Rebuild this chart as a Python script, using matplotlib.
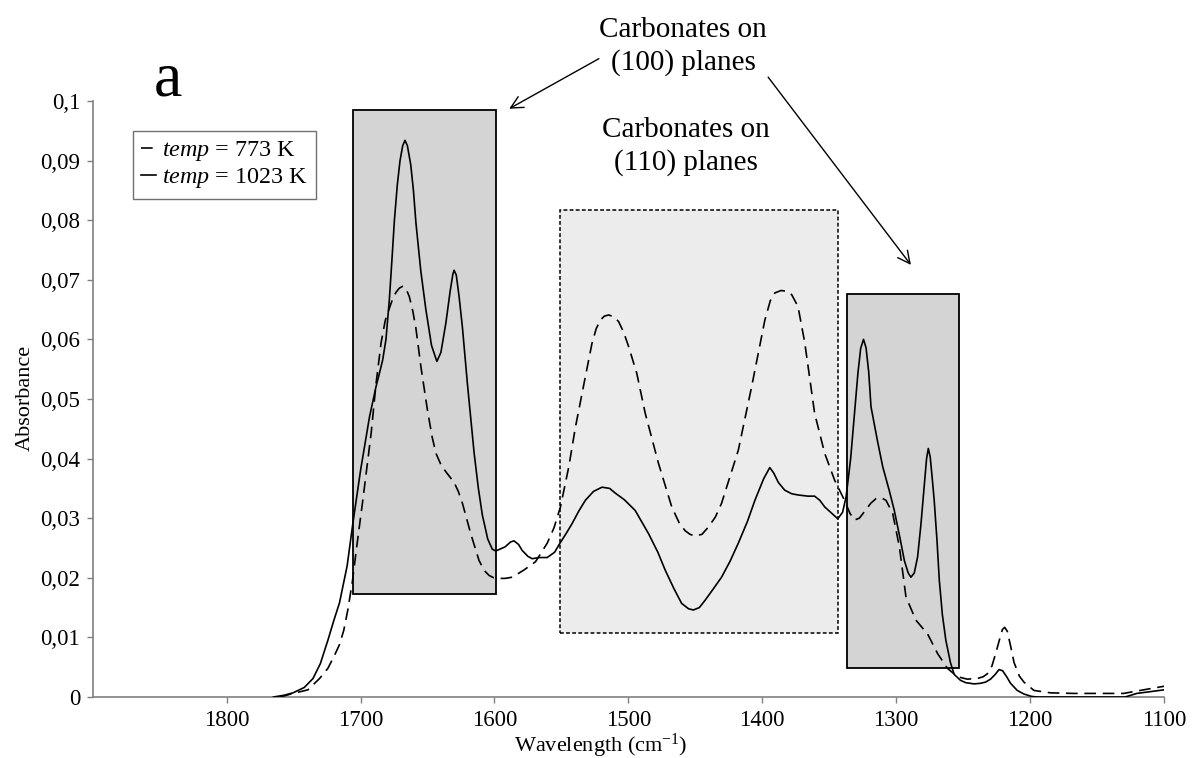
import matplotlib
matplotlib.use("Agg")
import matplotlib.pyplot as plt
from matplotlib.patches import Rectangle
from matplotlib.lines import Line2D

plt.rcParams["font.family"] = "Liberation Serif"
plt.rcParams["mathtext.fontset"] = "custom"
plt.rcParams["mathtext.rm"] = "Liberation Serif"
plt.rcParams["mathtext.it"] = "Liberation Serif:italic"

# spectrum at 1023 K (solid)
wn_1023 = [1765, 1757, 1750.4, 1742, 1735.5, 1730, 1724.4, 1720, 1715.7, 1710,
           1705.8, 1700, 1693.3, 1688.5, 1685.9, 1683.5, 1681, 1678.5, 1676.5,
           1674.7, 1672.5, 1670.5, 1668.5, 1666.8, 1665, 1662.5, 1660.5, 1658.6,
           1655, 1651.2, 1647, 1643, 1640, 1636.3, 1633, 1631, 1630.1, 1628.5,
           1626.4, 1623.9, 1620.2, 1615.2, 1612, 1609, 1605, 1601.6, 1599, 1592,
           1588, 1585.4, 1582, 1579.3, 1575, 1571.8, 1566.8, 1560.6, 1555, 1551.9,
           1546, 1542, 1537, 1532.1, 1526, 1519.7, 1514, 1509.7, 1503, 1494.9,
           1484.9, 1478, 1472.5, 1466, 1460.2, 1455, 1451.5, 1447, 1442.8, 1437,
           1430.4, 1424, 1417.9, 1411, 1405.5, 1399, 1394.4, 1391.5, 1388, 1383.2,
           1378, 1373.3, 1366, 1360.9, 1357, 1353.4, 1348, 1343.6, 1340, 1337.4,
           1334, 1331.1, 1328.5, 1326.5, 1324.4, 1322.5, 1320.5, 1318.8, 1314,
           1310.0, 1305, 1301.4, 1297, 1293.9, 1291, 1289, 1286.5, 1284, 1281.5,
           1279, 1277.3, 1276, 1274.6, 1273.2, 1271.6, 1269.5, 1267.8, 1265.5,
           1262.9, 1259.5, 1256.7, 1252, 1248, 1241.8, 1237, 1233.2, 1229.5, 1226,
           1223.2, 1220.5, 1217.5, 1214.6, 1209.6, 1204.6, 1199, 1194.7, 1160,
           1129, 1120.3, 1100]
abs_1023 = [0.0, 0.0003, 0.0007, 0.0016, 0.0031, 0.0056, 0.0095, 0.0128, 0.0158,
            0.0220, 0.0290, 0.0380, 0.0470, 0.0520, 0.0543, 0.0565, 0.0600, 0.0666,
            0.0735, 0.0800, 0.0860, 0.0900, 0.0925, 0.0934, 0.0925, 0.0893, 0.0850,
            0.0795, 0.0715, 0.0650, 0.0590, 0.0563, 0.0578, 0.0627, 0.0682, 0.0710,
            0.0716, 0.0708, 0.0672, 0.0620, 0.0526, 0.0410, 0.0350, 0.0305, 0.0265,
            0.0248, 0.0245, 0.0252, 0.0260, 0.0262, 0.0256, 0.0246, 0.0236, 0.0232,
            0.0234, 0.0234, 0.0243, 0.0255, 0.0276, 0.0291, 0.0312, 0.0330, 0.0345,
            0.0352, 0.0350, 0.0342, 0.0331, 0.0313, 0.0274, 0.0243, 0.0213, 0.0182,
            0.0157, 0.0148, 0.0146, 0.0150, 0.0162, 0.0180, 0.0201, 0.0228, 0.0258,
            0.0295, 0.0330, 0.0366, 0.0385, 0.0376, 0.0360, 0.0347, 0.0341, 0.0339,
            0.0337, 0.0337, 0.0330, 0.0319, 0.0308, 0.0299, 0.0310, 0.0336, 0.0400,
            0.0476, 0.0545, 0.0585, 0.0600, 0.0586, 0.0545, 0.0487, 0.0430, 0.0386,
            0.0345, 0.0313, 0.0265, 0.0229, 0.0208, 0.0201, 0.0208, 0.0235, 0.0290,
            0.0355, 0.0400, 0.0417, 0.0403, 0.0370, 0.0330, 0.0262, 0.0196, 0.0138,
            0.0095, 0.0058, 0.0038, 0.0028, 0.0024, 0.0022, 0.0023, 0.0025, 0.0030,
            0.0038, 0.0046, 0.0044, 0.0034, 0.0023, 0.0011, 0.0005, 0.0001, 0.0,
            0.0, 0.0, 0.0006, 0.0012]

# spectrum at 773 K (dashed)
wn_773 = [1760, 1750.4, 1739.3, 1730.6, 1724.4, 1719.4, 1715.7, 1712.5, 1709.5,
          1706, 1703.2, 1698.3, 1692.1, 1688.4, 1684.6, 1681.5, 1678.5, 1676,
          1673.5, 1671, 1668.6, 1666, 1663.6, 1661, 1658.6, 1654.9, 1650, 1646.5,
          1643.7, 1640, 1636.3, 1630.1, 1627, 1623.9, 1617.7, 1611.5, 1607.5,
          1604, 1600.5, 1597.9, 1592, 1586.7, 1578, 1569.3, 1560.6, 1555.5, 1550.7,
          1544.5, 1539.5, 1534.6, 1527.2, 1524, 1521, 1518, 1514.7, 1511, 1507.3,
          1503.5, 1499.8, 1493.7, 1487.4, 1477.5, 1467.6, 1462, 1457.6, 1454,
          1450.2, 1445, 1440.3, 1435, 1430.4, 1417.9, 1408, 1398.1, 1394, 1390.6,
          1386, 1382, 1378, 1373.3, 1368.3, 1360.9, 1353.4, 1346, 1338.6, 1334.5,
          1331.1, 1327.5, 1323.7, 1319, 1315, 1311, 1307.6, 1302.6, 1297.6, 1292.7,
          1285.3, 1276.6, 1269.1, 1261.7, 1254.2, 1247, 1239.4, 1235, 1231.9,
          1228.5, 1225.7, 1223, 1220.7, 1219, 1217, 1214.5, 1212, 1208, 1204.6,
          1197.1, 1184.8, 1167.4, 1155, 1142.6, 1130.2, 1115.3, 1100]
abs_773 = [0.0, 0.0006, 0.0012, 0.0031, 0.0048, 0.0070, 0.0088, 0.0112, 0.0146,
           0.0195, 0.0246, 0.0330, 0.0442, 0.0526, 0.0595, 0.0632, 0.0652, 0.0668,
           0.0679, 0.0686, 0.0689, 0.0685, 0.0672, 0.0648, 0.0618, 0.0554, 0.0481,
           0.0436, 0.0409, 0.0390, 0.0378, 0.0360, 0.0345, 0.0325, 0.0274, 0.0229,
           0.0212, 0.0204, 0.0200, 0.0199, 0.0199, 0.0201, 0.0213, 0.0227, 0.0258,
           0.0284, 0.0319, 0.0386, 0.0453, 0.0509, 0.0593, 0.0618, 0.0632, 0.0639,
           0.0641, 0.0638, 0.0630, 0.0612, 0.0588, 0.0543, 0.0476, 0.0392, 0.0319,
           0.0292, 0.0279, 0.0273, 0.0270, 0.0273, 0.0285, 0.0302, 0.0325, 0.0414,
           0.0520, 0.0632, 0.0665, 0.0678, 0.0682, 0.0681, 0.0675, 0.0655, 0.0595,
           0.0476, 0.0409, 0.0364, 0.0330, 0.0308, 0.0297, 0.0300, 0.0311, 0.0325,
           0.0333, 0.0334, 0.0330, 0.0308, 0.0252, 0.0168, 0.0129, 0.0106, 0.0073,
           0.0048, 0.0034, 0.0030, 0.0031, 0.0034, 0.0039, 0.0052, 0.0073, 0.0095,
           0.0113, 0.0117, 0.0110, 0.0085, 0.0058, 0.0035, 0.0025, 0.0011, 0.0007,
           0.0006, 0.0006, 0.0006, 0.0006, 0.0012, 0.0018]

x_ticks = [1800, 1700, 1600, 1500, 1400, 1300, 1200, 1100]
y_ticks = [0, 0.01, 0.02, 0.03, 0.04, 0.05, 0.06, 0.07, 0.08, 0.09, 0.1]
y_tick_labels = ["0", "0,01", "0,02", "0,03", "0,04", "0,05", "0,06", "0,07",
                 "0,08", "0,09", "0,1"]

# highlighted regions: (wn left, wn right, abs bottom, abs top)
box_100_a = (1705.3, 1598.8, 0.0172, 0.0985)
box_110 = (1551.2, 1343.3, 0.0108, 0.0817)
box_100_b = (1336.8, 1253.0, 0.0049, 0.0676)

W, H = 1192, 758
fig = plt.figure(figsize=(W / 100, H / 100), dpi=100)
ax = fig.add_axes([92.7 / W, 1 - 697 / H, (1164 - 92.7) / W, (697 - 101) / H])

for (x0, x1, y0, y1), fc, ls, lw in [
    (box_100_a, "#d4d4d4", "-", 1.3),
    (box_110, "#ececec", (0, (2.5, 1.5)), 1.1),
    (box_100_b, "#d4d4d4", "-", 1.3),
]:
    ax.add_patch(Rectangle((x0, y0), x1 - x0, y1 - y0, facecolor=fc,
                           edgecolor="black", linestyle=ls, linewidth=lw, zorder=1))

ax.plot(wn_773, abs_773, color="black", linewidth=1.2, dashes=(7, 4), zorder=3)
ax.plot(wn_1023, abs_1023, color="black", linewidth=1.2, zorder=3)

ax.set_xlim(1900, 1100)
ax.set_ylim(0, 0.1)
ax.set_xticks(x_ticks)
ax.set_xticklabels([str(t) for t in x_ticks])
ax.set_yticks(y_ticks)
ax.set_yticklabels(y_tick_labels)
ax.tick_params(axis="both", labelsize=16.5, color="#808080", length=4, width=1,
               direction="out", pad=5)

for side in ["top", "right"]:
    ax.spines[side].set_visible(False)
for side in ["left", "bottom"]:
    ax.spines[side].set_color("#808080")
    ax.spines[side].set_linewidth(1.2)

fig.text(25 / W, 1 - 398 / H, "Absorbance", rotation=90, ha="center",
         va="center", fontsize=16)
fig.text(601 / W, 1 - 752 / H, r"Wavelength (cm$^{-1}$)", ha="center",
         va="baseline", fontsize=16)

ax.text(1843.7, 0.1010, "a", fontsize=46, ha="center", va="baseline", clip_on=False)

ax.text(1459, 0.1091, "Carbonates on\n(100) planes", fontsize=21, ha="center",
        va="center", multialignment="center", linespacing=1.3, clip_on=False)
ax.text(1457, 0.0924, "Carbonates on\n(110) planes", fontsize=21, ha="center",
        va="center", multialignment="center", linespacing=1.3, clip_on=False)

arrow_props = dict(arrowstyle="->", color="black", linewidth=1.0,
                   mutation_scale=22, shrinkA=0, shrinkB=0)
ax.annotate("", xy=(1589, 0.0987), xytext=(1522, 0.1071),
            arrowprops=arrow_props, annotation_clip=False)
ax.annotate("", xy=(1289, 0.0725), xytext=(1395.6, 0.1040),
            arrowprops=arrow_props, annotation_clip=False)

handles = [
    Line2D([], [], color="black", linewidth=1.2, dashes=(7, 4)),
    Line2D([], [], color="black", linewidth=1.2),
]
labels = [r"$\it{temp}$ = 773 K", r"$\it{temp}$ = 1023 K"]
leg = ax.legend(handles, labels, loc="upper left",
                bbox_to_anchor=(133 / W, 1 - 131 / H), bbox_transform=fig.transFigure,
                borderaxespad=0, fontsize=17.4, handlelength=0.6,
                handletextpad=0.25, labelspacing=0.12, borderpad=0.35,
                fancybox=False, framealpha=1, edgecolor="#707070")
leg.get_frame().set_linewidth(1.0)

fig.savefig("out.png", dpi=100)
